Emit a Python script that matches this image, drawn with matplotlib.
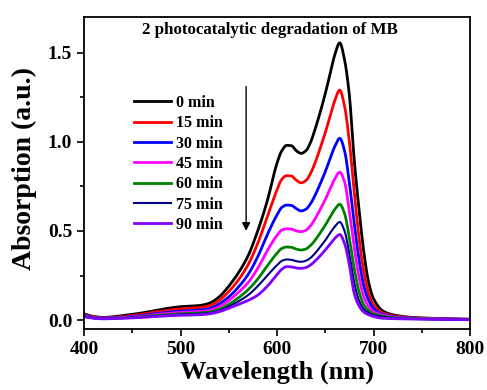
import numpy as np
import matplotlib
matplotlib.use("Agg")
import matplotlib.pyplot as plt
from matplotlib.ticker import MultipleLocator

plt.rcParams['font.family'] = ['Liberation Serif', 'DejaVu Serif']
plt.rcParams['font.weight'] = 'bold'

wavelength = [400, 410, 420, 440, 460, 480, 500, 520, 530, 540, 550, 560, 570, 580, 590,
              600, 605, 610, 615, 620, 625, 630, 635, 640, 645, 650, 655, 660, 665, 670,
              675, 680, 685, 690, 695, 700, 710, 720, 740, 760, 780, 800]

labels = ["0 min", "15 min", "30 min", "45 min", "60 min", "75 min", "90 min"]

abs_0 = [0.035, 0.020, 0.015, 0.025, 0.040, 0.060, 0.075, 0.082, 0.095, 0.130, 0.190, 0.265, 0.360, 0.500, 0.670,
         0.880, 0.950, 0.980, 0.978, 0.950, 0.935, 0.950, 1.000, 1.080, 1.170, 1.270, 1.380, 1.490, 1.555, 1.460,
         1.260, 0.900, 0.620, 0.380, 0.210, 0.120, 0.050, 0.030, 0.015, 0.010, 0.007, 0.005]
abs_15 = [0.030, 0.018, 0.013, 0.020, 0.033, 0.050, 0.063, 0.070, 0.080, 0.110, 0.160, 0.225, 0.310, 0.430, 0.580,
          0.730, 0.790, 0.810, 0.808, 0.785, 0.770, 0.783, 0.825, 0.890, 0.968, 1.051, 1.144, 1.233, 1.290, 1.200,
          1.000, 0.720, 0.460, 0.270, 0.150, 0.085, 0.040, 0.025, 0.013, 0.009, 0.006, 0.004]
abs_30 = [0.028, 0.015, 0.011, 0.016, 0.026, 0.040, 0.050, 0.056, 0.064, 0.090, 0.130, 0.185, 0.255, 0.355, 0.480,
          0.590, 0.632, 0.645, 0.643, 0.625, 0.612, 0.622, 0.655, 0.706, 0.767, 0.832, 0.906, 0.975, 1.020, 0.950,
          0.770, 0.540, 0.340, 0.190, 0.110, 0.065, 0.032, 0.020, 0.011, 0.008, 0.005, 0.004]
abs_45 = [0.025, 0.013, 0.010, 0.014, 0.022, 0.034, 0.043, 0.048, 0.055, 0.075, 0.110, 0.155, 0.210, 0.290, 0.390,
          0.475, 0.505, 0.512, 0.510, 0.500, 0.496, 0.504, 0.531, 0.573, 0.623, 0.676, 0.736, 0.793, 0.830, 0.775,
          0.610, 0.410, 0.240, 0.130, 0.075, 0.048, 0.027, 0.017, 0.010, 0.007, 0.005, 0.003]
abs_60 = [0.022, 0.012, 0.009, 0.012, 0.019, 0.028, 0.035, 0.040, 0.045, 0.060, 0.088, 0.125, 0.170, 0.230, 0.305,
          0.375, 0.402, 0.410, 0.408, 0.398, 0.393, 0.399, 0.420, 0.452, 0.491, 0.532, 0.578, 0.622, 0.650, 0.598,
          0.460, 0.290, 0.160, 0.085, 0.052, 0.035, 0.021, 0.014, 0.008, 0.006, 0.004, 0.003]
abs_75 = [0.020, 0.011, 0.008, 0.011, 0.017, 0.025, 0.031, 0.035, 0.040, 0.053, 0.076, 0.105, 0.140, 0.190, 0.250,
          0.308, 0.332, 0.340, 0.338, 0.330, 0.327, 0.333, 0.350, 0.378, 0.412, 0.447, 0.488, 0.525, 0.550, 0.500,
          0.370, 0.210, 0.110, 0.060, 0.040, 0.027, 0.018, 0.012, 0.007, 0.005, 0.004, 0.003]
abs_90 = [0.018, 0.010, 0.007, 0.010, 0.015, 0.022, 0.027, 0.030, 0.035, 0.047, 0.066, 0.088, 0.110, 0.140, 0.190,
          0.255, 0.285, 0.300, 0.298, 0.292, 0.290, 0.295, 0.310, 0.334, 0.362, 0.393, 0.427, 0.459, 0.480, 0.430,
          0.310, 0.150, 0.080, 0.045, 0.030, 0.020, 0.010, 0.008, 0.006, 0.005, 0.003, 0.002]

series = [abs_0, abs_15, abs_30, abs_45, abs_60, abs_75, abs_90]
colors = ["#000000", "#ff0000", "#0000ff", "#ff00ff", "#008000", "#000080", "#8000ff"]
widths = [2.0, 2.0, 2.0, 2.0, 2.0, 1.5, 2.0]


def pchip(x, y, xn):
    x = np.asarray(x, float); y = np.asarray(y, float)
    h = np.diff(x); d = np.diff(y) / h
    m = np.zeros_like(y)
    for k in range(1, len(x) - 1):
        if d[k - 1] * d[k] > 0:
            w1 = 2 * h[k] + h[k - 1]; w2 = h[k] + 2 * h[k - 1]
            m[k] = (w1 + w2) / (w1 / d[k - 1] + w2 / d[k])
    m[0] = d[0]; m[-1] = d[-1]
    idx = np.clip(np.searchsorted(x, xn) - 1, 0, len(x) - 2)
    t = (xn - x[idx]) / h[idx]
    h00 = 2 * t**3 - 3 * t**2 + 1; h10 = t**3 - 2 * t**2 + t
    h01 = -2 * t**3 + 3 * t**2; h11 = t**3 - t**2
    return h00 * y[idx] + h10 * h[idx] * m[idx] + h01 * y[idx + 1] + h11 * h[idx] * m[idx + 1]


fig = plt.figure(figsize=(4.87, 3.90), dpi=100)
ax = fig.add_axes([84 / 487, 61 / 390, 386 / 487, 312 / 390])

xf = np.linspace(400, 800, 801)
for s, c, lw, lab in zip(series, colors, widths, labels):
    ax.plot(xf, pchip(wavelength, s, xf), color=c, lw=lw, label=lab)

ax.set_xlim(400, 800)
ax.set_ylim(-0.05, 1.70)
ax.xaxis.set_major_locator(MultipleLocator(100))
ax.xaxis.set_minor_locator(MultipleLocator(50))
ax.yaxis.set_major_locator(MultipleLocator(0.5))
ax.yaxis.set_minor_locator(MultipleLocator(0.25))
ax.set_yticks([0, 0.5, 1.0, 1.5])
ax.set_yticklabels(["0.0", "0.5", "1.0", "1.5"])
ax.tick_params(which='both', direction='out', width=1.2, labelsize=14)
ax.tick_params(which='major', length=5)
ax.tick_params(which='minor', length=3)
for sp in ax.spines.values():
    sp.set_linewidth(1.3)
for lbl in ax.get_xticklabels() + ax.get_yticklabels():
    lbl.set_fontweight('bold')

ax.set_xlabel("Wavelength (nm)", fontsize=19, fontweight='bold', labelpad=2)
ax.set_ylabel("Absorption (a.u.)", fontsize=20, fontweight='bold')
ax.yaxis.set_label_coords(-0.122, 0.516)

ax.text(593, 1.625, "2 photocatalytic degradation of MB", ha='center', va='center',
        fontsize=12.2, fontweight='bold')

ax.annotate("", xy=(568, 0.50), xytext=(568, 1.31),
            arrowprops=dict(arrowstyle='-|>', color='black', lw=1.0,
                            mutation_scale=12, shrinkA=0, shrinkB=0))

leg = ax.legend(loc='upper left', bbox_to_anchor=(0.13, 0.75), frameon=False,
                prop={'size': 11.5, 'weight': 'bold'}, handlelength=2.3,
                handletextpad=0.3, labelspacing=0.27, borderpad=0, borderaxespad=0)

fig.savefig("out.png", dpi=100)
